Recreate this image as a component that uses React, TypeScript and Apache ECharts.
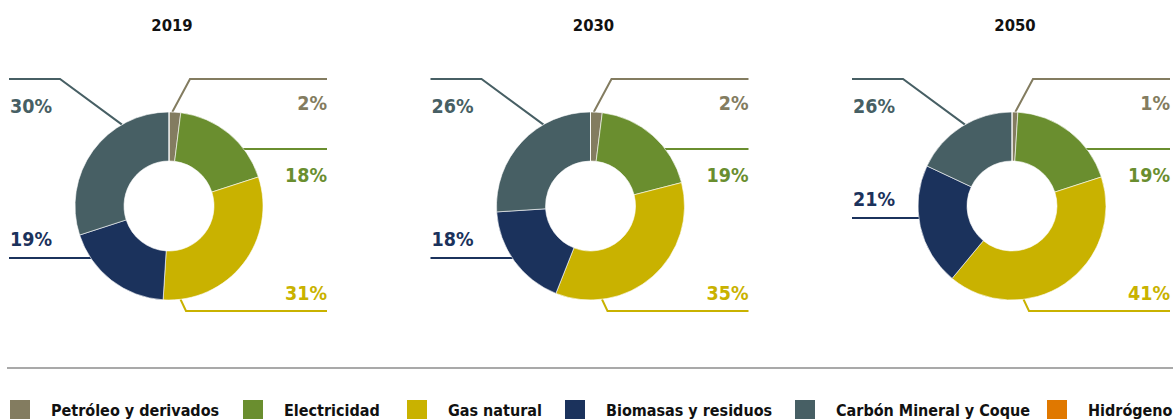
import React, { useEffect, useRef } from 'react';
import * as echarts from 'echarts';

const categories = [
  'Petróleo y derivados',
  'Electricidad',
  'Gas natural',
  'Biomasas y residuos',
  'Carbón Mineral y Coque',
  'Hidrógeno',
];
const years = ['2019', '2030', '2050'];
const colors = ['#837c60', '#6a8e2f', '#c9b200', '#1b325c', '#475f64', '#e07800'];

// slice sizes as drawn
const shares2019 = [2, 18, 31, 19, 30, 0];
const shares2030 = [2, 19, 35, 18, 26, 0];
const shares2050 = [1, 19, 41, 21, 18, 0];
// printed labels
const labels2019 = ['2%', '18%', '31%', '19%', '30%', ''];
const labels2030 = ['2%', '19%', '35%', '18%', '26%', ''];
const labels2050 = ['1%', '19%', '41%', '21%', '26%', ''];

const sharesByYear = [shares2019, shares2030, shares2050];
const labelsByYear = [labels2019, labels2030, labels2050];

const FONT = '"DejaVu Sans Condensed", "DejaVu Sans", sans-serif';
const R_OUT = 94;
const R_IN = 45;

function makeLayout(cx: number, cy: number, bioDy: number) {
  const onCircle = (deg: number) => [
    cx + R_OUT * Math.sin((deg * Math.PI) / 180),
    cy - R_OUT * Math.cos((deg * Math.PI) / 180),
  ];
  const rightX = cx + 158;
  const leftX = cx - 160;
  return (params: any) => {
    const i = params.dataIndex;
    let pts: number[][] = [];
    let side: 'left' | 'right' = 'right';
    let lineY = cy;
    let textDy = 0;
    if (i === 0) {
      lineY = cy - 127;
      pts = [onCircle(2), [cx + 21, lineY], [rightX, lineY]];
      textDy = 24;
    } else if (i === 1) {
      const dy = -57;
      lineY = cy + dy;
      pts = [[cx + Math.sqrt(R_OUT * R_OUT - dy * dy) - 1, lineY], [rightX, lineY]];
      textDy = 26;
    } else if (i === 2) {
      lineY = cy + 105;
      pts = [onCircle(173), [cx + 17, lineY], [rightX, lineY]];
      textDy = -18;
    } else if (i === 3) {
      side = 'left';
      lineY = cy + bioDy;
      pts = [[cx - Math.sqrt(R_OUT * R_OUT - bioDy * bioDy) + 1, lineY], [leftX, lineY]];
      textDy = -19;
    } else if (i === 4) {
      side = 'left';
      lineY = cy - 127;
      pts = [onCircle(330), [cx - 109, lineY], [leftX, lineY]];
      textDy = 27;
    } else {
      return {};
    }
    return {
      x: side === 'right' ? rightX : leftX + 1,
      y: lineY + textDy,
      align: side,
      verticalAlign: 'middle',
      labelLinePoints: pts,
    };
  };
}

export default function App() {
  const ref = useRef<HTMLDivElement>(null);
  useEffect(() => {
    if (!ref.current) return;
    const chart = echarts.init(ref.current, undefined, { renderer: 'svg' });
    const cy = 206;
    const centers = years.map((_, k) => 169 + k * 421.5);
    const bioDys = [52, 52, 12];

    const series = years.map((y, k) => {
      const shares = sharesByYear[k];
      const labels = labelsByYear[k];
      return {
        type: 'pie',
        name: y,
        center: [centers[k], cy],
        radius: [R_IN, R_OUT],
        startAngle: 90,
        clockwise: true,
        avoidLabelOverlap: false,
        silent: true,
        itemStyle: { borderColor: '#ffffff', borderWidth: 0.6 },
        label: {
          show: true,
          position: 'outside',
          fontFamily: FONT,
          fontWeight: 'bold',
          fontSize: 19.5,
          color: 'inherit',
          formatter: (p: any) => labels[p.dataIndex],
        },
        labelLine: { show: true, smooth: false, lineStyle: { width: 2 } },
        labelLayout: makeLayout(centers[k], cy, bioDys[k]),
        data: categories.map((c, i) => ({
          name: c,
          value: shares[i],
          itemStyle: { color: colors[i] },
          label: { show: shares[i] > 0, color: colors[i] },
          labelLine: { show: shares[i] > 0, lineStyle: { color: colors[i], width: 2 } },
        })),
      };
    });

    const legendLefts = [8, 241, 405, 563, 793, 1045];
    const legends = categories.map((c, i) => ({
      data: [c],
      left: legendLefts[i],
      top: 398,
      padding: 0,
      itemWidth: 22,
      itemHeight: 22,
      icon: 'rect',
      selectedMode: false,
      textStyle: {
        fontFamily: FONT,
        fontWeight: 'bold',
        fontSize: 16,
        color: '#111111',
        padding: [0, 0, 0, 15],
      },
    }));

    chart.setOption({
      animation: false,
      color: colors,
      legend: legends,
      graphic: [
        ...years.map((y, k) => ({
          type: 'text',
          x: centers[k] + 3,
          y: 25,
          style: {
            text: y,
            fill: '#111111',
            font: `bold 16.5px ${FONT}`,
            textAlign: 'center',
            textVerticalAlign: 'middle',
          },
        })),
        {
          type: 'line',
          shape: { x1: 7, y1: 368, x2: 1173, y2: 368 },
          style: { stroke: '#8c8c8c', lineWidth: 1.5 },
        },
      ],
      series,
    });
    return () => chart.dispose();
  }, []);
  return (
    <div
      ref={ref}
      style={{ position: 'absolute', left: 0, top: 0, width: 1173, height: 419 }}
    />
  );
}
